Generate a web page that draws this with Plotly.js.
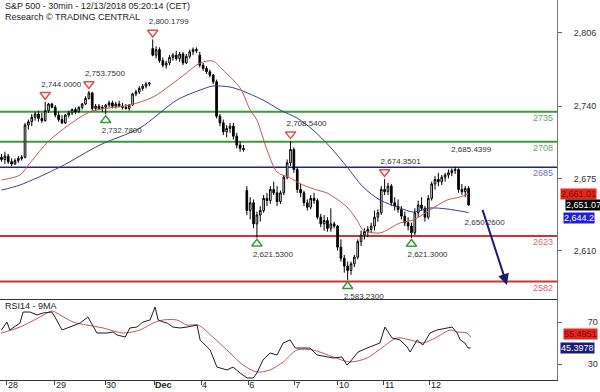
<!DOCTYPE html>
<html><head><meta charset="utf-8">
<script src="https://cdn.plot.ly/plotly-3.0.1.min.js"></script>
<style>html,body{margin:0;padding:0;background:#fff}#chart{width:600px;height:392px}</style>
</head><body><div id="chart"></div>
<script>
// ---- 30-min OHLC bars (bar index 0 = last bars of Nov 27) ----
const openP = [2694,2692,2695,2690,2688,2691,2693,2694,2723,2726,2730,2733,2729,2727,2736,2742,2739,2732,2728,2725,
2732,2734,2737,2735,2739,2742,2747,2752,2738,2740,2738,2739,2741,2743,2740,2742,2740,2739,2738,2741,
2751,2753,2756,2758,2760,2792,2786,2791,2781,2777,2779,2784,2786,2783,2787,2779,2785,2789,2791,2786,
2777,2774,2771,2768,2762,2731,2725,2717,2720,2722,2713,2705,2702,2664,2646,2653,2634,2642,2646,2657,
2655,2665,2662,2654,2662,2676,2689,2701,2683,2665,2662,2653,2649,2657,2655,2640,2634,2637,2630,2634,
2632,2613,2603,2596,2592,2598,2604,2618,2624,2627,2629,2632,2640,2644,2665,2663,2668,2653,2650,2647,
2641,2635,2632,2626,2644,2651,2648,2640,2657,2670,2674,2672,2676,2678,2680,2682,2683,2665,2663,2666];
const highP = [2697,2699,2697,2693,2693,2695,2696,2725,2728,2733,2735,2736,2734,2744,2743,2743,2741,2735,2732,2733,
2736,2738,2739,2740,2743,2749,2753.75,2753,2742,2742,2741,2742,2745,2745,2744,2745,2743,2742,2742,2752,
2755,2758,2760,2762,2762,2800.18,2794,2793,2784,2781,2786,2788,2790,2789,2789,2787,2791,2793,2793,2789,
2779,2776,2773,2769,2764,2733,2728,2723,2725,2725,2716,2708,2705,2668,2658,2656,2645,2650,2660,2662,
2668,2672,2668,2664,2678,2692,2708.54,2703,2685,2670,2664,2656,2660,2662,2657,2643,2642,2640,2648,2636,
2633,2620,2606,2600,2600,2606,2620,2628,2630,2632,2635,2646,2647,2668,2674.35,2671,2670,2658,2656,2650,
2645,2640,2635,2648,2655,2658,2650,2660,2672,2677,2680,2678,2680,2683,2684,2685.44,2684,2670,2668,2668];
const lowP = [2690,2688,2688,2686,2687,2689,2691,2693,2719,2722,2727,2726,2725,2726,2734,2738,2730,2726,2724,2724,
2730,2732,2733,2734,2737,2741,2746,2736,2736,2737,2735,2732.78,2739,2738,2738,2739,2737,2737,2736,2740,
2749,2751,2754,2756,2758,2785,2783,2779,2775,2774,2777,2781,2781,2780,2777,2778,2783,2786,2788,2775,
2772,2769,2766,2760,2729,2722,2714,2712,2716,2710,2702,2699,2699,2642,2638,2630,2621.53,2636,2644,2650,
2652,2660,2650,2652,2660,2674,2686,2680,2662,2658,2650,2646,2647,2652,2638,2631,2628,2627,2627,2630,
2610,2600,2590,2583.23,2588,2595,2602,2614,2620,2622,2626,2628,2636,2642,2660,2660,2650,2646,2644,2638,
2632,2628,2621.3,2624,2640,2646,2636,2638,2655,2665,2668,2669,2672,2675,2677,2679,2662,2660,2658,2650.26];
const closeP = [2692,2695,2690,2688,2691,2693,2694,2723,2726,2730,2733,2729,2727,2736,2742,2739,2732,2728,2725,2732,
2734,2737,2735,2739,2742,2747,2752,2738,2740,2738,2739,2741,2743,2740,2742,2740,2739,2738,2741,2751,
2753,2756,2758,2760,2761,2786,2791,2781,2777,2779,2784,2786,2783,2787,2779,2785,2789,2791,2790,2777,
2774,2771,2768,2762,2731,2725,2717,2720,2722,2713,2705,2702,2701,2646,2653,2634,2642,2646,2657,2655,
2665,2662,2654,2662,2676,2689,2701,2683,2665,2662,2653,2649,2657,2655,2640,2634,2637,2630,2634,2632,
2613,2603,2596,2592,2598,2604,2618,2624,2627,2629,2632,2640,2644,2665,2663,2668,2653,2650,2647,2641,
2635,2632,2626,2644,2651,2648,2640,2657,2670,2674,2672,2676,2678,2680,2682,2683,2665,2663,2666,2651.07];

// ---- moving averages (bar index, value) ----
const maFastIdx = [0,5.5,8.5,14.4,26.3,38.2,45.1,53.1,59.1,62.9,65.9,71.0,74.0,76.0,79.0,82.0,85.9,89.7,93.9,96.9,102.8,105.8,107.6,112.6,118.6,122.5,127.5,132.6,136.5,139];
const maFastVal = [2673.5,2678,2688.9,2709.6,2734.8,2741.1,2748.3,2765.4,2778.9,2780.7,2772.6,2756.4,2736.6,2727.6,2700.6,2680.7,2675.3,2669,2664.5,2661.8,2649.2,2637.5,2628.5,2625.8,2634.8,2637.5,2646.5,2655.5,2658.2,2661.01];
const maSlowIdx = [0,5.5,17.4,29.3,41.2,52.2,59.1,62.9,68.0,71.0,77.8,82.9,87.9,92.7,97.8,102.8,107.6,112.6,118.6,122.5,127.5,132.6,139];
const maSlowVal = [2664.5,2669,2685.2,2705.1,2720.4,2745.6,2754.6,2758.2,2757.3,2754.6,2745.6,2736.6,2729.4,2718.6,2703.3,2685.3,2667.2,2655.5,2648.3,2644.7,2648.3,2647.4,2644.2];

// ---- RSI14 and its 9MA ----
const rsiIdx = [0,1.6,2.5,5.5,6.4,8.5,10.6,12.4,15.0,15.9,18.0,20.4,23.4,25.7,28.4,31.4,33.2,34.4,36.8,38.2,40.3,42.1,44.2,45.7,46.6,48.1,49.3,51.0,53.1,55.2,58.2,59.1,62.1,64.1,67.1,68.9,71.0,73.1,74.9,76.0,77.8,79.9,82.0,83.8,85.9,87.4,88.8,91.8,93.9,96.9,98.7,101.3,102.8,103.7,104.6,106.1,108.8,112.6,114.1,116.2,118.6,120.7,121.6,123.7,125.4,127.5,129.6,132.6,134.1,135.6,136.5,137.9,138.8,139.6];
const rsiVal = [62.4,70,62.4,69,79.5,79.5,76.7,78.6,79.5,74.8,62.4,65.2,69,74.8,59.5,59.5,60.5,57.6,55.7,64.3,65.2,70,71.9,84.3,71.9,70,69,65.2,64.3,65.2,67.1,52.9,43.3,27.1,24.3,27.1,21.4,16.7,16.7,21.4,33.8,40.5,38.6,50,52.9,45.2,45.2,45.2,38.6,36.7,35.7,36.7,29,31.9,35.7,41.4,45.2,50,65.2,54.8,52.9,46.2,41.4,52.9,48.1,59.5,62.4,64.3,65.2,59.5,52.9,50,45.2,45.3978];
const rsiMaIdx = [0,5.5,11.5,15.0,17.4,21.3,25.4,30.2,36.2,41.2,45.1,48.1,52.2,55.2,58.5,62.9,68.0,71.9,76.0,79.9,83.8,87.9,92.7,98.7,103.7,108.8,113.5,117.7,121.6,125.4,129.6,133.5,135.6,138.5,139.6];
const rsiMaVal = [59.5,65.2,74.8,80.5,76.7,70,67.1,64.3,59.5,62.4,69,71.9,71.9,67.1,67.1,55.7,40.5,29,22.4,24.3,31.9,43.3,43.3,36.7,31.9,35.7,46.2,54.8,52.9,50,55.7,62.4,60.5,59.5,55.4951];

// ---- key levels ----
const levelValues = [2735, 2708, 2685, 2623, 2582];
const levelColors = ['#3c9a3c', '#3c9a3c', '#22228c', '#cc3535', '#cc3535'];
const levelTextColors = ['#62a862', '#62a862', '#7474b8', '#d06a6a', '#d06a6a'];

// ---- pivots ----
const pivotIdx   = [13, 26, 31, 45, 76, 86, 103, 114, 122, 135, 139];
const pivotPrice = [2744.0, 2753.75, 2732.78, 2800.1799, 2621.53, 2708.54, 2583.23, 2674.3501, 2621.30, 2685.4399, 2650.26];
const pivotType  = ['H','H','L','H','L','H','L','H','L','H','L'];
const pivotMarked = [1,1,1,1,1,1,1,1,1,0,0];

// ---- forecast arrow ----
const forecastIdx = [143, 150.4];
const forecastPrice = [2648, 2579];

// ---- axes ----
const dayTickIdx = [1.6, 15.9, 30.8, 45.4, 59.4, 73.4, 87.1, 100.1, 113.8, 127.5];
const dayTickText = ['28', '29', '30', '<b>Dec</b>', '4', '6', '7', '10', '11', '12'];
const priceTicks = [2806, 2740, 2675, 2610];
const priceTickText = ['2,806', '2,740', '2,675', '2,610'];
const rsiTicks = [30, 70];

const lastClose = 2651.07, lastFastMa = 2661.01, lastSlowMa = 2644.2;
const lastRsi = 45.3978, lastRsiMa = 55.4951;

// ---- geometry ----
const W = 600, H = 392;
const margin = {l: 0, r: 43, t: 0, b: 12};
const plotW = W - margin.l - margin.r, plotH = H - margin.t - margin.b;
const split = 81 / plotH;
const mainDom = [split, 1], rsiDom = [0, split];
const xRange = [-0.45, 165.3];
const priceRange = [2566.3, 2835.7];
const rsiRange = [14.76, 91.9];
const unitsPerPx = (priceRange[1] - priceRange[0]) / (plotH * (mainDom[1] - mainDom[0]));
const pxPerBar = plotW / (xRange[1] - xRange[0]);

const barX = openP.map((_, i) => i);
const font = 'Liberation Sans, Arial, sans-serif';

const traces = [];
traces.push({
  type: 'candlestick', x: barX, open: openP, high: highP, low: lowP, close: closeP,
  xaxis: 'x', yaxis: 'y', whiskerwidth: 0, hoverinfo: 'skip',
  increasing: {line: {color: '#000', width: 1}, fillcolor: '#fff'},
  decreasing: {line: {color: '#000', width: 1}, fillcolor: '#000'}
});
traces.push({type: 'scatter', mode: 'lines', x: maSlowIdx, y: maSlowVal, xaxis: 'x', yaxis: 'y',
  line: {color: '#3c3c8c', width: 1, shape: 'spline', smoothing: 0.8}, hoverinfo: 'skip'});
traces.push({type: 'scatter', mode: 'lines', x: maFastIdx, y: maFastVal, xaxis: 'x', yaxis: 'y',
  line: {color: '#c05a50', width: 1, shape: 'spline', smoothing: 0.8}, hoverinfo: 'skip'});

// pivot markers
const hiK = [], loK = [];
pivotType.forEach((t, k) => { if (pivotMarked[k]) (t === 'H' ? hiK : loK).push(k); });
traces.push({type: 'scatter', mode: 'markers', xaxis: 'x', yaxis: 'y', hoverinfo: 'skip',
  x: hiK.map(k => pivotIdx[k]), y: hiK.map(k => pivotPrice[k] + 7 * unitsPerPx),
  marker: {symbol: 'triangle-down-open', size: 9, color: '#d9534f', line: {width: 1.5, color: '#d9534f'}}});
traces.push({type: 'scatter', mode: 'markers', xaxis: 'x', yaxis: 'y', hoverinfo: 'skip',
  x: loK.map(k => pivotIdx[k]), y: loK.map(k => pivotPrice[k] - 6 * unitsPerPx),
  marker: {symbol: 'triangle-up-open', size: 9, color: '#3c9a3c', line: {width: 1.5, color: '#3c9a3c'}}});
traces.push({type: 'scatter', mode: 'text', xaxis: 'x', yaxis: 'y', hoverinfo: 'skip', cliponaxis: true,
  x: pivotIdx.map(i => i - 4 / pxPerBar),
  y: pivotPrice.map((p, k) => pivotType[k] === 'H' ? p + 17 * unitsPerPx : p - 17 * unitsPerPx),
  text: pivotPrice.map(p => p.toLocaleString('en-US', {minimumFractionDigits: 4, maximumFractionDigits: 4})),
  textposition: 'middle right', textfont: {family: font, size: 8, color: '#333'}});

// RSI
traces.push({type: 'scatter', mode: 'lines', x: rsiMaIdx, y: rsiMaVal, xaxis: 'x2', yaxis: 'y2',
  line: {color: '#c05a50', width: 1, shape: 'spline', smoothing: 0.8}, hoverinfo: 'skip'});
traces.push({type: 'scatter', mode: 'lines', x: rsiIdx, y: rsiVal, xaxis: 'x2', yaxis: 'y2',
  line: {color: '#1a1a33', width: 1}, hoverinfo: 'skip'});

const shapes = levelValues.map((v, k) => ({
  type: 'line', xref: 'paper', x0: 0, x1: 1, yref: 'y', y0: v, y1: v, layer: 'below',
  line: {color: levelColors[k], width: k === 2 ? 1.5 : 2}
}));

const annotations = [];
annotations.push({xref: 'paper', yref: 'paper', x: 3 / plotW, y: 1 - 6 / plotH, xanchor: 'left', yanchor: 'middle',
  text: 'S&P 500 - 30min - 12/13/2018 05:20:14 (CET)', showarrow: false, font: {family: font, size: 9, color: '#222'}});
annotations.push({xref: 'paper', yref: 'paper', x: 3 / plotW, y: 1 - 17 / plotH, xanchor: 'left', yanchor: 'middle',
  text: 'Research © TRADING CENTRAL', showarrow: false, font: {family: font, size: 9, color: '#222'}});
annotations.push({xref: 'paper', yref: 'paper', x: 3 / plotW, y: 1 - 306 / plotH, xanchor: 'left', yanchor: 'middle',
  text: 'RSI14 - 9MA', showarrow: false, font: {family: font, size: 9, color: '#222'}});
levelValues.forEach((v, k) => annotations.push({
  xref: 'paper', yref: 'y', x: 1 - 2 / plotW, y: v, yshift: -6, xanchor: 'right', yanchor: 'middle',
  text: String(v), showarrow: false, font: {family: font, size: 9, color: levelTextColors[k]}
}));
annotations.push({xref: 'x', yref: 'y', axref: 'x', ayref: 'y',
  x: forecastIdx[1], y: forecastPrice[1], ax: forecastIdx[0], ay: forecastPrice[0],
  text: '', showarrow: true, arrowhead: 2, arrowsize: 1.1, arrowwidth: 2, arrowcolor: '#1c1c6e', standoff: 0});

function valueBox(yref, val, txt, bg, fg, left, yshift) {
  return {xref: 'paper', yref: yref, x: 1 + left / plotW, y: val, yshift: yshift || 0,
    xanchor: 'left', yanchor: 'middle', text: txt, showarrow: false, bgcolor: bg, borderpad: 0,
    font: {family: font, size: 9, color: fg}};
}
annotations.push(valueBox('y', lastFastMa, lastFastMa.toLocaleString('en-US', {minimumFractionDigits: 2}), '#e3261e', '#7a0a0a', 3));
annotations.push(valueBox('y', lastClose, lastClose.toLocaleString('en-US', {minimumFractionDigits: 2}), '#000', '#fff', 8));
annotations.push(valueBox('y', lastSlowMa, lastSlowMa.toLocaleString('en-US', {minimumFractionDigits: 1}), '#1f1fe0', '#fff', 6, -5));
annotations.push(valueBox('y2', lastRsiMa, String(lastRsiMa), '#e3261e', '#7a0a0a', 6, 3));
annotations.push(valueBox('y2', lastRsi, String(lastRsi), '#1a1a78', '#fff', 3));

const yCommon = {side: 'right', showgrid: false, zeroline: false, showline: true, linecolor: '#777', linewidth: 1,
  ticks: 'outside', ticklen: 4, tickcolor: '#666',
  tickfont: {family: font, size: 9, color: '#333'}, fixedrange: true};

const layout = {
  width: W, height: H, margin: margin, showlegend: false,
  paper_bgcolor: '#fff', plot_bgcolor: '#fff', font: {family: font, size: 9, color: '#333'},
  xaxis: {domain: [0, 1], anchor: 'y', range: xRange, showgrid: false, zeroline: false, showticklabels: false,
    ticks: '', showline: true, linecolor: '#333', linewidth: 1, rangeslider: {visible: false}, fixedrange: true},
  xaxis2: {domain: [0, 1], anchor: 'y2', range: xRange, matches: 'x', showgrid: false, zeroline: false,
    showline: true, linecolor: '#333', linewidth: 1, ticks: 'outside', ticklen: 4, tickcolor: '#444',
    tickmode: 'array', tickvals: dayTickIdx, ticktext: dayTickText, ticklabelposition: 'outside right',
    ticklabelstandoff: -4, tickfont: {family: font, size: 9, color: '#222'}, fixedrange: true},
  yaxis: Object.assign({}, yCommon, {domain: mainDom, anchor: 'x', range: priceRange, ticklabelstandoff: 10,
    tickmode: 'array', tickvals: priceTicks, ticktext: priceTickText}),
  yaxis2: Object.assign({}, yCommon, {domain: rsiDom, anchor: 'x2', range: rsiRange, ticklabelstandoff: 24,
    tickmode: 'array', tickvals: rsiTicks, ticktext: rsiTicks.map(String)}),
  shapes: shapes, annotations: annotations
};

Plotly.newPlot('chart', traces, layout, {staticPlot: true, displayModeBar: false});
</script></body></html>
